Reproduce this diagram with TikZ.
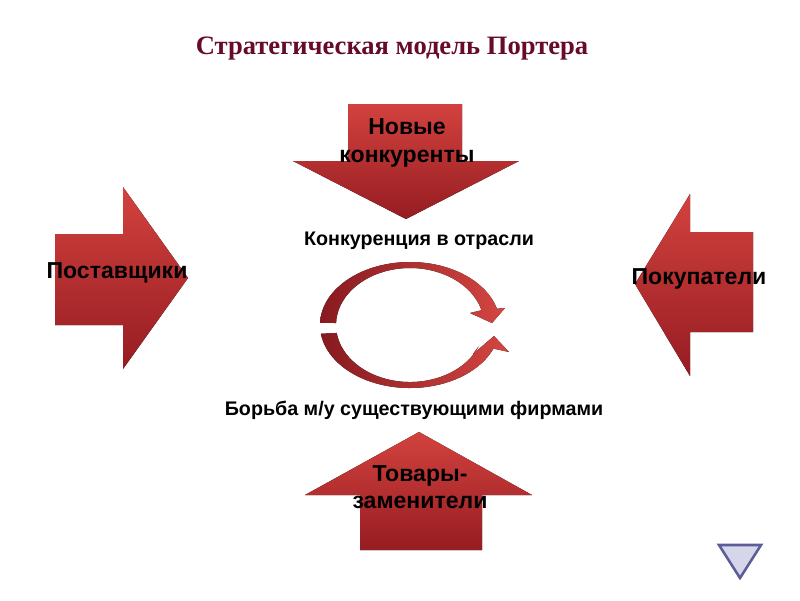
\documentclass[tikz,border=0pt]{standalone}
\usepackage{fontspec}
\setmainfont{Liberation Serif}
\setsansfont{Liberation Sans}
\usetikzlibrary{positioning}
\definecolor{arrowtop}{RGB}{210,66,62}
\definecolor{arrowbot}{RGB}{150,28,34}
\definecolor{cycledark}{RGB}{135,26,32}
\definecolor{cyclelight}{RGB}{212,70,66}
\definecolor{titlered}{RGB}{102,12,40}
\definecolor{navfill}{RGB}{214,214,234}
\definecolor{navdraw}{RGB}{92,92,152}
\tikzstyle{force} = [top color=arrowtop, bottom color=arrowbot]
\tikzstyle{cyclearrow} = [left color=cycledark, right color=cyclelight]
\tikzstyle{forcetext} = [font=\sffamily\bfseries\fontsize{16.4}{19.5}\selectfont, align=center, text=black, inner sep=0pt]
\tikzstyle{midtext} = [font=\sffamily\bfseries\fontsize{14}{16}\selectfont, text=black, inner sep=0pt]
\begin{document}
\begin{tikzpicture}[x=0.025cm, y=-0.025cm]
\useasboundingbox (0,0) rectangle (800,600);
\node[font=\rmfamily\bfseries\fontsize{18.9}{22}\selectfont, text=titlered] (title) at (392,49) {Стратегическая модель Портера};

% five forces
\fill[force] (348,104) -- (462,104) -- (462,161) -- (519,161) -- (406,219) -- (293,161) -- (348,161) -- cycle;
\fill[force] (55,234) -- (123,234) -- (123,187) -- (188,278) -- (123,369) -- (123,325) -- (55,325) -- cycle;
\fill[force] (753,232) -- (690,232) -- (690,194) -- (635,284) -- (690,376) -- (690,332) -- (753,332) -- cycle;
\fill[force] (360,550) -- (482,550) -- (482,495) -- (532,495) -- (419,432) -- (305,495) -- (360,495) -- cycle;

\node[forcetext] (newcomers) at (407,143) {Новые\\конкуренты};
\node[forcetext] (suppliers) at (117,273) {Поставщики};
\node[forcetext] (buyers) at (699,279) {Покупатели};
\node[forcetext] (substitutes) at (420,487) {Товары-\\заменители};

% rivalry cycle
\begin{scope}[shift={(410,325)}]
\fill[cyclearrow] (182:90 and 63) arc[start angle=182, end angle=345, x radius=90, y radius=63]
  -- (95,-17) -- (82,-2) -- (60,-12) -- (345:74 and 57)
  arc[start angle=345, end angle=182, x radius=74, y radius=57] -- cycle;
\fill[cyclearrow] (172:90 and 63) arc[start angle=172, end angle=22, x radius=90, y radius=63]
  -- (99,27) -- (84,11) -- (63,29) -- (22:74 and 57)
  arc[start angle=22, end angle=172, x radius=74, y radius=57] -- cycle;
\end{scope}
\node[midtext] (rivalry) at (419,241) {Конкуренция в отрасли};
\node[midtext] (firms) at (414,410) {Борьба м/у существующими фирмами};

% navigation
\draw[navdraw, fill=navfill, line width=1.8pt] (719,545) -- (761,545) -- (740,578) -- cycle;
\end{tikzpicture}
\end{document}
